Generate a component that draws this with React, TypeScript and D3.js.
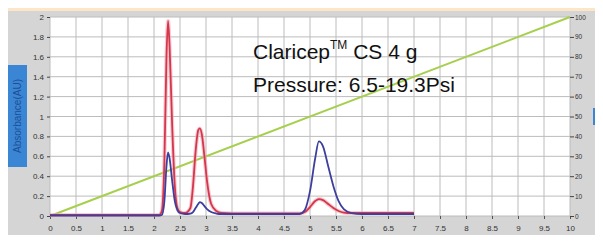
import React, { useEffect, useRef } from 'react';
import * as d3 from 'd3';

// retention time (min) shared by both detector traces
const times = [0, 2.1, 2.15, 2.2, 2.24, 2.27, 2.3, 2.35, 2.4, 2.45, 2.5, 2.6, 2.7, 2.75, 2.8, 2.85, 2.88, 2.92, 2.97, 3.02, 3.1, 3.2, 3.3, 3.5, 4.8, 4.9, 5.0, 5.1, 5.17, 5.25, 5.35, 5.45, 5.55, 5.65, 5.8, 6.0, 7.0];
const redTrace = [0.01, 0.01, 0.05, 0.55, 1.6, 1.96, 1.7, 0.9, 0.3, 0.08, 0.04, 0.03, 0.08, 0.3, 0.65, 0.86, 0.88, 0.82, 0.6, 0.35, 0.12, 0.05, 0.03, 0.025, 0.025, 0.04, 0.09, 0.15, 0.17, 0.16, 0.12, 0.08, 0.05, 0.035, 0.03, 0.03, 0.03];
const blueTrace = [0.005, 0.005, 0.01, 0.15, 0.5, 0.64, 0.58, 0.35, 0.15, 0.06, 0.03, 0.02, 0.025, 0.04, 0.08, 0.12, 0.14, 0.13, 0.1, 0.07, 0.04, 0.025, 0.02, 0.02, 0.02, 0.06, 0.25, 0.58, 0.75, 0.7, 0.5, 0.3, 0.15, 0.07, 0.03, 0.02, 0.02];
// gradient (%B) endpoints
const gradTimes = [0, 10];
const gradValues = [0, 100];

const xTicks = [0, 0.5, 1, 1.5, 2, 2.5, 3, 3.5, 4, 4.5, 5, 5.5, 6, 6.5, 7, 7.5, 8, 8.5, 9, 9.5, 10];
const yTicks = [0, 0.2, 0.4, 0.6, 0.8, 1, 1.2, 1.4, 1.6, 1.8, 2];
const y2Ticks = [0, 10, 20, 30, 40, 50, 60, 70, 80, 90, 100];

const Chart = () => {
  const svgRef = useRef(null);

  useEffect(() => {
    const svg = d3.select(svgRef.current);
    svg.selectAll('*').remove();

    const width = 603;
    const height = 243;
    const margin = { top: 17, right: 33, bottom: 27, left: 50 };

    svg.attr('width', width).attr('height', height);

    // backgrounds
    svg.append('rect').attr('width', width).attr('height', height).attr('fill', '#fde6c8');
    svg.append('rect').attr('x', 7).attr('y', 11).attr('width', width - 7).attr('height', height - 11).attr('fill', '#d5d5d5');

    const x = d3.scaleLinear().domain([0, 10]).range([margin.left, width - margin.right]);
    const y = d3.scaleLinear().domain([0, 2]).range([height - margin.bottom, margin.top]);
    const y2 = d3.scaleLinear().domain([0, 100]).range([height - margin.bottom, margin.top]);

    svg.append('rect')
      .attr('x', x(0)).attr('y', y(2))
      .attr('width', x(10) - x(0)).attr('height', y(0) - y(2))
      .attr('fill', '#ffffff');

    // grid
    const grid = svg.append('g').attr('stroke', '#bcbcbc').attr('stroke-width', 1);
    grid.selectAll('.vg').data(xTicks).join('line')
      .attr('x1', d => x(d)).attr('x2', d => x(d))
      .attr('y1', y(2)).attr('y2', y(0));
    grid.selectAll('.hg').data(yTicks).join('line')
      .attr('x1', x(0)).attr('x2', x(10))
      .attr('y1', d => y(d)).attr('y2', d => y(d));

    // axes
    const tickFont = g => g.selectAll('text')
      .attr('font-family', 'Liberation Sans, Arial, sans-serif')
      .attr('font-size', 8)
      .attr('fill', '#333');

    svg.append('g')
      .attr('transform', `translate(0,${y(0)})`)
      .call(d3.axisBottom(x).tickValues(xTicks).tickSize(3).tickPadding(6).tickFormat(d3.format('')))
      .call(g => g.select('.domain').remove())
      .call(g => g.selectAll('line').attr('stroke', '#555'))
      .call(tickFont);

    svg.append('g')
      .attr('transform', `translate(${x(0)},0)`)
      .call(d3.axisLeft(y).tickValues(yTicks).tickSize(3).tickPadding(3).tickFormat(d3.format('')))
      .call(g => g.select('.domain').remove())
      .call(g => g.selectAll('line').attr('stroke', '#444'))
      .call(tickFont);

    svg.append('g')
      .attr('transform', `translate(${x(10)},0)`)
      .call(d3.axisRight(y2).tickValues(y2Ticks).tickSize(4).tickPadding(1))
      .call(g => g.select('.domain').remove())
      .call(g => g.selectAll('line').attr('stroke', '#444'))
      .call(tickFont)
      .call(g => g.selectAll('text').attr('font-size', 6.5));

    // gradient line
    const gradLine = d3.line().x(d => x(d[0])).y(d => y2(d[1]));
    svg.append('path')
      .datum(gradTimes.map((t, i) => [t, gradValues[i]]))
      .attr('d', gradLine)
      .attr('fill', 'none')
      .attr('stroke', '#a6cf4e')
      .attr('stroke-width', 2);

    // traces
    const trace = d3.line().x(d => x(d[0])).y(d => y(d[1])).curve(d3.curveMonotoneX);
    const redData = times.map((t, i) => [t, redTrace[i]]);
    const blueData = times.map((t, i) => [t, blueTrace[i]]);

    svg.append('path').datum(redData).attr('d', trace)
      .attr('fill', 'none').attr('stroke', '#f2a8b4').attr('stroke-width', 4).attr('opacity', 0.6);
    svg.append('path').datum(redData).attr('d', trace)
      .attr('fill', 'none').attr('stroke', '#d5364c').attr('stroke-width', 1.8);
    svg.append('path').datum(blueData).attr('d', trace)
      .attr('fill', 'none').attr('stroke', '#3c3f9e').attr('stroke-width', 1.8);

    // annotation
    const note = svg.append('g')
      .attr('font-family', 'Liberation Sans, Arial, sans-serif')
      .attr('fill', '#111');
    const t1 = note.append('text').attr('x', 253).attr('y', 59).attr('font-size', 21);
    t1.append('tspan').text('Claricep');
    t1.append('tspan').attr('font-size', 12).attr('dy', -10).text('TM');
    t1.append('tspan').attr('dy', 10).text(' CS 4 g');
    note.append('text').attr('x', 253).attr('y', 92).attr('font-size', 21).text('Pressure: 6.5-19.3Psi');

    // axis titles
    svg.append('rect').attr('x', 8).attr('y', 65).attr('width', 19).attr('height', 102).attr('fill', '#3b86d4');
    svg.append('text')
      .attr('transform', `translate(21,116) rotate(-90)`)
      .attr('text-anchor', 'middle')
      .attr('font-family', 'Liberation Sans, Arial, sans-serif')
      .attr('font-size', 10)
      .attr('fill', '#1d4f96')
      .text('Absorbance(AU)');

    svg.append('rect').attr('x', 593).attr('y', 108).attr('width', 10).attr('height', 17).attr('fill', '#3b86d4');

    svg.append('text')
      .attr('x', 311).attr('y', 241)
      .attr('text-anchor', 'middle')
      .attr('font-family', 'Liberation Sans, Arial, sans-serif')
      .attr('font-size', 8)
      .attr('fill', '#444')
      .text('Time/min');
  }, []);

  return <svg ref={svgRef} style={{ display: 'block' }}></svg>;
};

export default function App() {
  return (
    <div style={{ margin: -8 }}>
      <Chart />
    </div>
  );
}
